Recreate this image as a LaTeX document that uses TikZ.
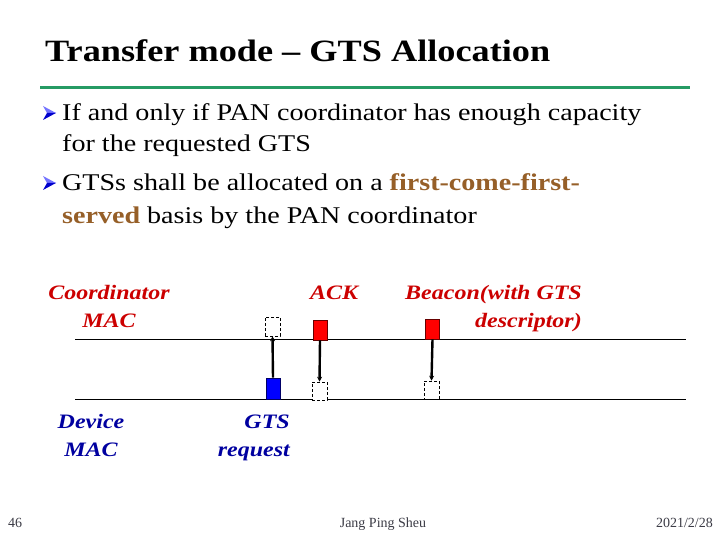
\documentclass[tikz,border=0pt]{standalone}
\usepackage{fontspec}
\setmainfont[FakeStretch=1.17]{Liberation Serif}
\newfontfamily\footfont{Liberation Serif}
\usetikzlibrary{arrows.meta}
\definecolor{titlegreen}{RGB}{38,155,100}
\definecolor{brownish}{RGB}{150,95,40}
\definecolor{lblred}{RGB}{204,0,0}
\definecolor{lblblue}{RGB}{0,0,160}
\definecolor{footgray}{RGB}{60,60,70}
\begin{document}
\begin{tikzpicture}[x=1pt,y=-1pt,
  body/.style={anchor=base west,inner sep=0pt,font=\fontsize{24}{28}\selectfont},
  lbl/.style={inner sep=0pt,font=\fontsize{20.5}{28}\selectfont\bfseries\itshape},
  foot/.style={inner sep=0pt,anchor=base,font=\footfont\fontsize{14}{16}\selectfont,text=footgray},
  redbox/.style={draw=black!60!red,fill=red,line width=0.6pt,minimum width=14pt,minimum height=20pt,inner sep=0pt},
  bluebox/.style={draw=black!60!blue,fill=blue,line width=0.6pt,minimum width=14pt,minimum height=21pt,inner sep=0pt},
  ghost/.style={draw=black,fill=white,dashed,dash pattern=on 3pt off 2pt,line width=0.6pt,minimum width=15pt,minimum height=18pt,inner sep=0pt},
  msg/.style={line width=2.4pt,-{Stealth[length=5pt,width=5pt]}},
  timeline/.style={line width=1pt}]
\useasboundingbox[fill=white] (0,0) rectangle (720,540);

% title
\node[anchor=base west,inner sep=0pt,font=\fontsize{31}{36}\selectfont\bfseries] (title) at (45,62) {Transfer mode -- GTS Allocation};
\draw[titlegreen,line width=3pt] (40,88) -- (690,88);

% bullets
\foreach \y in {113,183}{
  \fill[blue!55!white] (43,\y-7) -- (56,\y) -- (47,\y) -- cycle;
  \fill[blue!80!black] (43,\y+7) -- (56,\y) -- (47,\y) -- cycle;
}
\node[body] (t1) at (62,121) {If and only if PAN coordinator has enough capacity};
\node[body] (t2) at (62,152) {for the requested GTS};
\node[body] (t3) at (62,191) {GTSs shall be allocated on a \textcolor{brownish}{\bfseries first-come-first-}};
\node[body] (t4) at (62,224) {\textcolor{brownish}{\bfseries served} basis by the PAN coordinator};

% timelines
\coordinate (c0) at (75,339);
\coordinate (c1) at (686,339);
\coordinate (d0) at (75,399);
\coordinate (d1) at (686,399);
\draw[timeline] (c0) -- (c1);
\draw[timeline] (d0) -- (d1);

% boxes
\node[ghost,minimum height=19pt] (reqdst) at (272.5,326.5) {};
\node[bluebox] (req) at (273,388.5) {};
\node[redbox] (ack) at (320,330) {};
\node[ghost] (ackdst) at (319.5,391) {};
\node[redbox] (bcn) at (432.5,329) {};
\node[ghost] (bcndst) at (431.5,390) {};

% messages
\draw[msg] (req.north) -- (reqdst.south);
\draw[msg] (ack.south) -- (ackdst.north);
\draw[msg] (bcn.south) -- (bcndst.north);

% labels
\node[lbl,text=lblred,align=center,anchor=base] (coord) at (109,327) {Coordinator\\MAC};
\node[lbl,text=lblred,anchor=base west] (acklbl) at (310,299) {ACK};
\node[lbl,text=lblred,align=right,anchor=base east] (bcnlbl) at (582,327) {Beacon(with GTS\\descriptor)};
\node[lbl,text=lblblue,align=center,anchor=base] (dev) at (91,456) {Device\\MAC};
\node[lbl,text=lblblue,align=right,anchor=base east] (gtslbl) at (290,456) {GTS\\request};

% footer
\node[foot,anchor=base west] (pg) at (8,527) {46};
\node[foot] (auth) at (383,527) {Jang Ping Sheu};
\node[foot,anchor=base east] (date) at (713,527) {2021/2/28};
\end{tikzpicture}
\end{document}
